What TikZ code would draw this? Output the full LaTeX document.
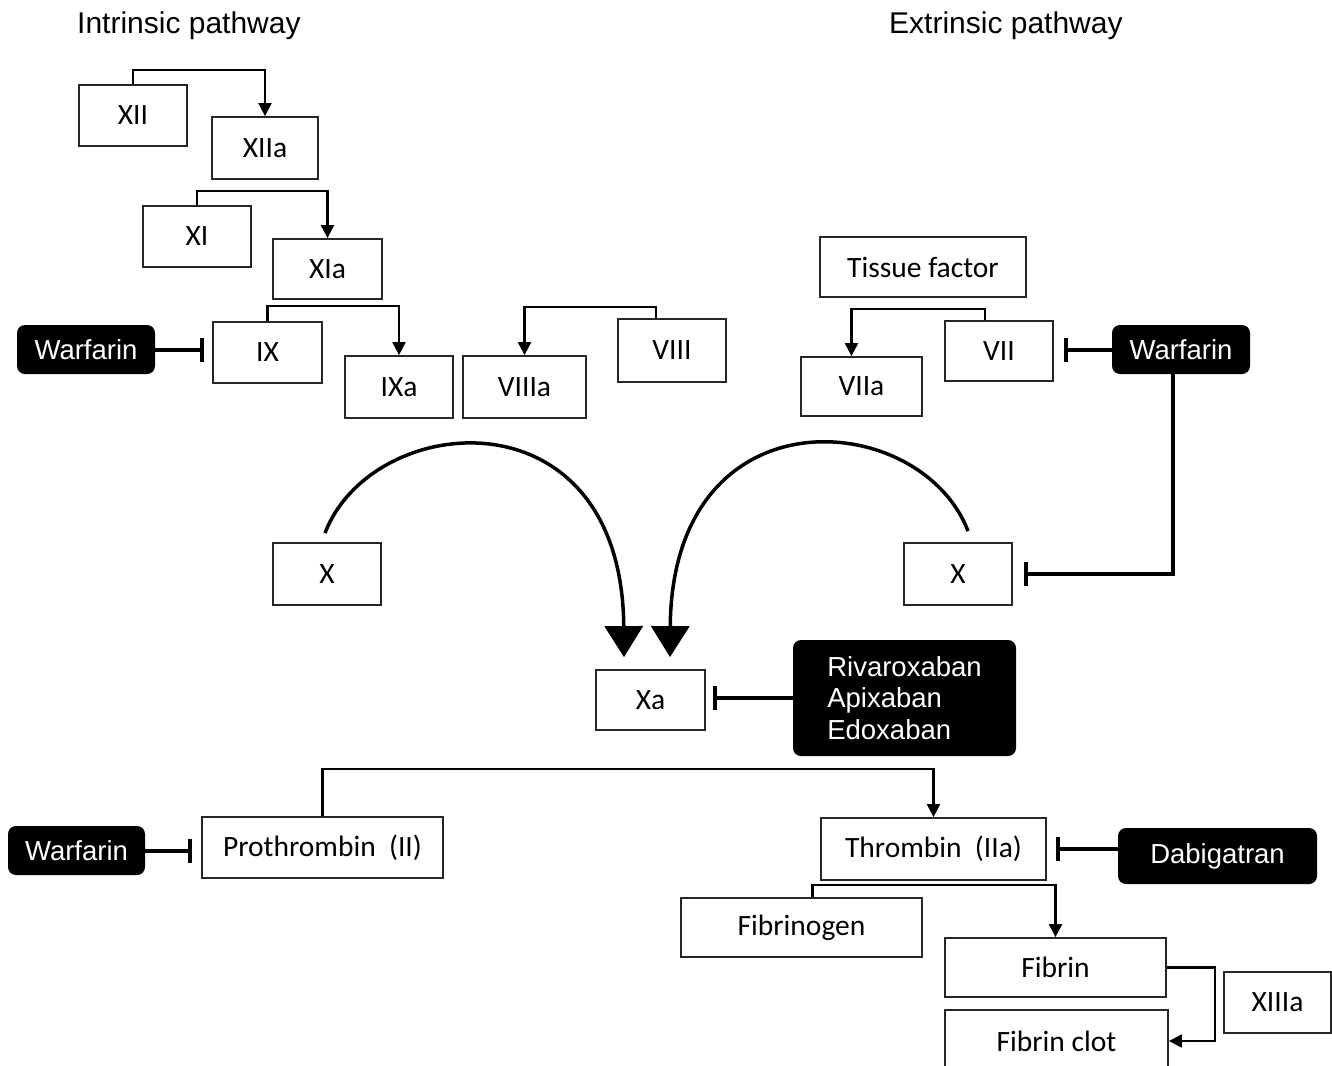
\documentclass[tikz,border=0pt]{standalone}
\usepackage{fontspec}
\setmainfont{Liberation Sans}
\newfontfamily\boxfont{Carlito}
\usetikzlibrary{arrows.meta,calc}
\begin{document}
\begin{tikzpicture}[x=1pt,y=-1pt,
 fbox/.style={draw=black!85,line width=1.8pt,inner sep=0pt,font=\boxfont\fontsize{29.5}{34}\selectfont,fill=white},
 drug/.style={fill=black,rounded corners=8pt,text=white,inner sep=0pt,font=\fontsize{27.5}{31.5}\selectfont},
 conn/.style={line width=2.2pt,-{Triangle[width=13pt,length=13pt]}},
 inhib/.style={line width=4pt,-{Bar[width=24pt,line width=4.5pt]}},
 bigarr/.style={line width=3.5pt,-{Triangle[width=38pt,length=31pt]}},
 hdr/.style={font=\fontsize{30}{35}\selectfont,inner sep=0pt,anchor=base west}]
\useasboundingbox (0,0) rectangle (1332,1065);
\begin{scope}
\clip (0,0) rectangle (1332,1065);
% headers
\node[hdr] (hint) at (77,34) {Intrinsic pathway};
\node[hdr] (hext) at (889,34) {Extrinsic pathway};
% intrinsic boxes
\node[fbox,minimum width=108,minimum height=61] (xii) at (133,115.5) {XII};
\node[fbox,minimum width=106,minimum height=62] (xiia) at (265,148) {XIIa};
\node[fbox,minimum width=108,minimum height=61] (xi) at (197,236.5) {XI};
\node[fbox,minimum width=109,minimum height=60] (xia) at (327.5,269) {XIa};
\node[fbox,minimum width=109,minimum height=61] (ix) at (267.5,352.5) {IX};
\node[fbox,minimum width=108,minimum height=62] (ixa) at (399,387) {IXa};
\node[fbox,minimum width=123,minimum height=62] (viiia) at (524.5,387) {VIIIa};
\node[fbox,minimum width=108,minimum height=63] (viii) at (672,350.5) {VIII};
% extrinsic boxes
\node[fbox,minimum width=206,minimum height=60] (tf) at (923,267) {Tissue factor};
\node[fbox,minimum width=121,minimum height=59] (viia) at (861.5,386.5) {VIIa};
\node[fbox,minimum width=108,minimum height=60] (vii) at (999,351) {VII};
% drugs
\node[drug,minimum width=138,minimum height=49] (warfA) at (86,349.5) {Warfarin};
\node[drug,minimum width=138,minimum height=49] (warfB) at (1181,349.5) {Warfarin};
\node[drug,minimum width=137,minimum height=49] (warfC) at (76.5,850.5) {Warfarin};
\node[drug,minimum width=199,minimum height=56] (dab) at (1217.5,856) {Dabigatran};
\node[drug,minimum width=223,minimum height=116,align=left] (xab) at (904.5,698) {Rivaroxaban\\Apixaban\\Edoxaban};
% X boxes
\node[fbox,minimum width=108,minimum height=62] (xl) at (327,574) {X};
\node[fbox,minimum width=108,minimum height=62] (xr) at (958,574) {X};
\node[fbox,minimum width=109,minimum height=60] (xa) at (650.5,700) {Xa};
% common pathway
\node[fbox,minimum width=241,minimum height=61] (pro) at (322.5,847.5) {Prothrombin~~(II)};
\node[fbox,minimum width=225,minimum height=62] (thr) at (933.5,849) {Thrombin~~(IIa)};
\node[fbox,minimum width=241,minimum height=59] (fbg) at (801.5,927.5) {Fibrinogen};
\node[fbox,minimum width=221,minimum height=59] (fbn) at (1055.5,967.5) {Fibrin};
\node[fbox,minimum width=223,minimum height=62] (clot) at (1056.5,1041) {Fibrin clot};
\node[fbox,minimum width=107,minimum height=61] (xiiia) at (1277.5,1002.5) {XIIIa};
% activation connectors
\draw[conn] (xii.north) -- ++(0,-14) -| (xiia.north);
\draw[conn] (xi.north) -- ++(0,-14) -| (xia.north);
\draw[conn] (ix.north) -- ++(0,-15) -| (ixa.north);
\draw[conn] ([xshift=-16pt]viii.north) -- ++(0,-11) -| (viiia.north);
\draw[conn] ([xshift=-14pt]vii.north) -- ++(0,-11) -| ([xshift=-10pt]viia.north);
\draw[conn] (pro.north) -- ++(0,-47) -| (thr.north);
\draw[conn] ([xshift=11pt]fbg.north) -- ++(0,-12) -| (fbn.north);
\draw[conn] (fbn.east) -- ++(48,0) |- (clot.east);
% inhibitors
\draw[inhib,shorten >=8pt] (warfA.east) -- (warfA.east -| ix.west);
\draw[inhib,shorten >=10pt] (warfB.west) -- (warfB.west -| vii.east);
\draw[inhib,shorten >=11pt] ([xshift=-8pt]warfB.south) |- (xr.east);
\draw[inhib,shorten >=7pt] (xab.west) -- (xab.west -| xa.east);
\draw[inhib,shorten >=9pt] (warfC.east) -- (warfC.east -| pro.west);
\draw[inhib,shorten >=9pt] (dab.west |- thr.east) -- (thr.east);
% big curved arrows
\coordinate (tipl) at ([xshift=-26.5pt,yshift=12pt]xa.north);
\coordinate (tipr) at ([xshift=19.5pt,yshift=12pt]xa.north);
\draw[bigarr] ([xshift=-2pt,yshift=9pt]xl.north) .. controls (372,410) and (622,388) .. (tipl);
\draw[bigarr] ([xshift=10pt,yshift=11pt]xr.north) .. controls (921,408) and (672,388) .. (tipr);
\end{scope}
\end{tikzpicture}
\end{document}
